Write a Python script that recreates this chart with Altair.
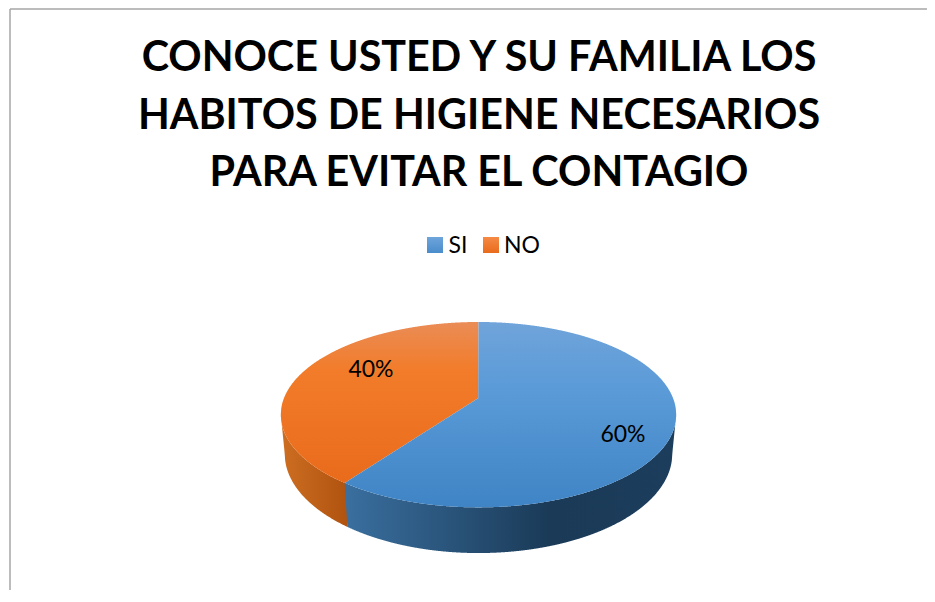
import numpy as np
import pandas as pd
import altair as alt

# ---- chart values ----
categories = ["SI", "NO"]
shares = [60, 40]
share_labels = ["60%", "40%"]
title_lines = [
    "CONOCE USTED Y SU FAMILIA LOS",
    "HABITOS DE HIGIENE NECESARIOS",
    "PARA EVITAR EL CONTAGIO",
]

FONT = "Lato"
W, H = 927, 590  # right and bottom page edge of the drawing surface

# ---- perspective model of the tilted pie (pixels of the page) ----
cx, cy = 478.5, 398.0
a, b, k = 89.7, 194.5, 0.18


def top_pt(theta):
    X, Y = np.sin(theta), np.cos(theta)
    d = 1 + k * Y
    return cx + b * X / d, cy - a * Y / d


def bottom_pt(theta):
    x, y = top_pt(theta)
    return cx + 0.98 * (x - cx), cy + 38 + 1.07 * (y - cy)


split = 2 * np.pi * shares[0] / sum(shares)
xb, yb = top_pt(split)
xb2, yb2 = bottom_pt(split)

t_ext = np.arccos(-k)
lower_t = np.linspace(t_ext, 2 * np.pi - t_ext, 800)
upper_t = np.linspace(-t_ext, t_ext, 800)

lx, ly = top_pt(lower_t)
ux, uy = top_pt(upper_t)
blx, bly = bottom_pt(lower_t)
o = np.argsort(lx); lx, ly = lx[o], ly[o]
o = np.argsort(ux); ux, uy = ux[o], uy[o]
o = np.argsort(blx); blx, bly = blx[o], bly[o]

x_min, x_max = lx[0], lx[-1]


def upper(x):
    return np.interp(x, ux, uy)


def lower(x):
    return np.interp(x, lx, ly)


def bottom(x):
    # silhouette of the wall: bottom arc, closed to the widest points of the top
    xs = np.r_[x_min, blx, x_max]
    ys = np.r_[lower(x_min), bly, lower(x_max)]
    return np.interp(x, xs, ys)


def radial(x):
    return cy + (cx - x) * (yb - cy) / (cx - xb)


grid = np.unique(np.r_[np.linspace(x_min, x_max, 900), xb, xb2, cx])

# top faces
gl = grid[grid <= cx]
no_top = pd.DataFrame({"x": gl, "y": upper(gl),
                       "y2": np.where(gl < xb, lower(gl), radial(gl))})
gr = grid[grid >= xb]
si_top = pd.DataFrame({"x": gr,
                       "y": np.where(gr < cx, radial(gr), upper(gr)),
                       "y2": lower(gr)})

# walls
gs = grid[grid <= xb2 + 0.5]
no_wall = pd.DataFrame({"x": gs, "y": lower(gs), "y2": bottom(gs)})
gw = grid[grid >= xb]
edge = yb + (gw - xb) * (yb2 - yb) / (xb2 - xb)
si_wall = pd.DataFrame({"x": gw, "y": lower(gw),
                        "y2": np.where(gw < xb2, edge, bottom(gw))})


def grad(stops, horizontal=False):
    return {
        "gradient": "linear",
        "x1": 0, "y1": 0,
        "x2": 1 if horizontal else 0,
        "y2": 0 if horizontal else 1,
        "stops": [{"offset": s, "color": c} for s, c in stops],
    }


BLUE_TOP = grad([(0, "#70a4da"), (0.35, "#5b9bd8"), (1, "#3f84c5")])
ORANGE_TOP = grad([(0, "#ea8c56"), (0.3, "#f27c2a"), (1, "#e96b1c")])
BLUE_WALL = grad([(0, "#3a6f9f"), (0.62, "#1a3a57"), (1, "#1c3d5c")], True)
ORANGE_WALL = grad([(0, "#cd6e22"), (1, "#b0530f")], True)

xs = alt.Scale(domain=[8, W], nice=False, zero=False)
ys = alt.Scale(domain=[H, 8], nice=False, zero=False)


def area(df, fill):
    return alt.Chart(df).mark_area(color=fill, orient="vertical", strokeWidth=0).encode(
        x=alt.X("x:Q", scale=xs, axis=None),
        y=alt.Y("y:Q", scale=ys, axis=None),
        y2="y2:Q",
    )


def text(df, size, bold=False):
    return alt.Chart(df).mark_text(
        font=FONT, fontSize=size, fontWeight="bold" if bold else "normal",
        color="#000000", align="center", baseline="middle",
    ).encode(
        x=alt.X("x:Q", scale=xs, axis=None),
        y=alt.Y("y:Q", scale=ys, axis=None),
        text="t:N",
    )


frame_left = alt.Chart(pd.DataFrame({"x": [10], "y": [9], "y2": [H]})).mark_rule(
    color="#a6a6a6", strokeWidth=1.5
).encode(x=alt.X("x:Q", scale=xs, axis=None), y=alt.Y("y:Q", scale=ys, axis=None), y2="y2:Q")
frame_top = alt.Chart(pd.DataFrame({"x": [10], "x2": [W], "y": [9]})).mark_rule(
    color="#a6a6a6", strokeWidth=1.5
).encode(x=alt.X("x:Q", scale=xs, axis=None), x2="x2:Q", y=alt.Y("y:Q", scale=ys, axis=None))

title_df = pd.DataFrame({"x": [479, 479, 479], "y": [58.5, 116.5, 174], "t": title_lines})
legend_text = pd.DataFrame({"x": [458, 522], "y": [245.5, 245.5], "t": categories})
pct_df = pd.DataFrame({"x": [623, 371], "y": [435, 370], "t": share_labels})


def swatch(x0, fill):
    d = pd.DataFrame({"x": [x0], "x2": [x0 + 16], "y": [237], "y2": [253]})
    return alt.Chart(d).mark_rect(color=fill).encode(
        x=alt.X("x:Q", scale=xs, axis=None), x2="x2:Q",
        y=alt.Y("y:Q", scale=ys, axis=None), y2="y2:Q",
    )


chart = alt.layer(
    frame_left, frame_top,
    area(no_wall, ORANGE_WALL), area(si_wall, BLUE_WALL),
    area(no_top, ORANGE_TOP), area(si_top, BLUE_TOP),
    text(title_df, 41.3, True),
    swatch(427, grad([(0, "#6ea5dc"), (1, "#4a8ccb")])),
    swatch(483, grad([(0, "#f58a45"), (1, "#e96b1c")])),
    text(legend_text, 23),
    text(pct_df, 23),
).properties(
    width=W - 8, height=H - 8, padding=0,
    autosize=alt.AutoSizeParams(type="none"),
    background="#ffffff",
).configure_view(stroke=None)

chart.save("out.html", embed_options={"renderer": "svg", "actions": False})
